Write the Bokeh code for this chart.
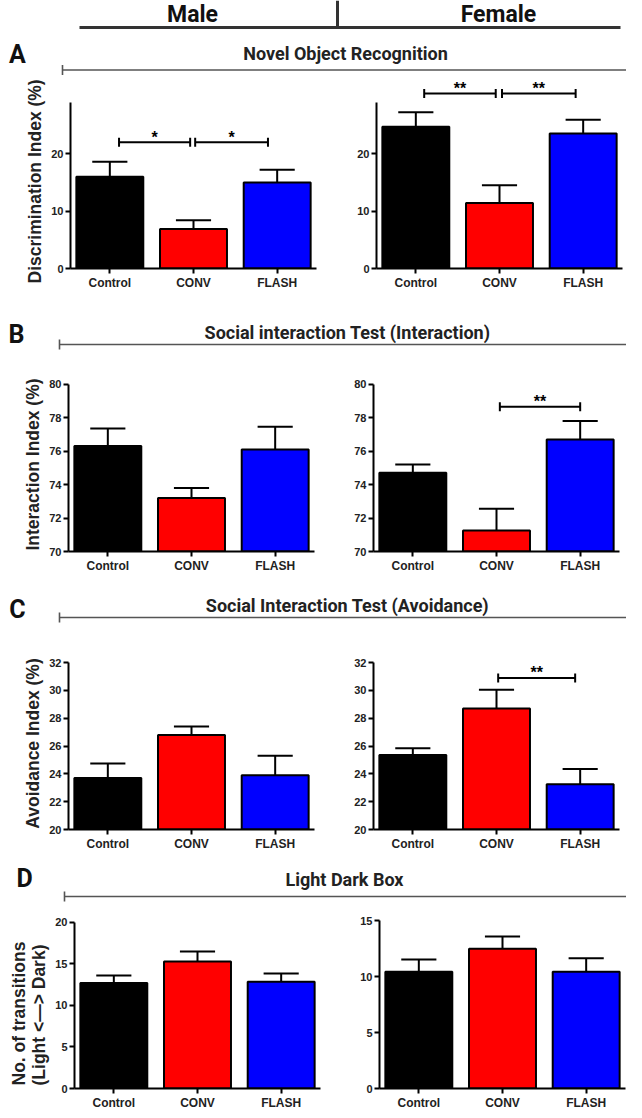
import numpy as np
from bokeh.plotting import figure
from bokeh.layouts import column, row
from bokeh.models import Range1d, FixedTicker, ColumnDataSource, Title
from bokeh.core.properties import value
from bokeh.embed import file_html
from bokeh.resources import INLINE

# ---------------- data ----------------
categories = ["Control", "CONV", "FLASH"]
bar_colors = ["#000000", "#ff0000", "#0000ff"]

# A: Novel Object Recognition, discrimination index (%)
nor_male = [16.0, 6.9, 15.0]
nor_male_sem = [2.6, 1.5, 2.2]
nor_female = [24.7, 11.4, 23.5]
nor_female_sem = [2.5, 3.1, 2.4]

# B: Social interaction test, interaction index (%)
sit_int_male = [76.3, 73.2, 76.1]
sit_int_male_sem = [1.05, 0.6, 1.35]
sit_int_female = [74.7, 71.25, 76.7]
sit_int_female_sem = [0.5, 1.3, 1.1]

# C: Social interaction test, avoidance index (%)
sit_avo_male = [23.7, 26.8, 23.9]
sit_avo_male_sem = [1.05, 0.6, 1.4]
sit_avo_female = [25.35, 28.7, 23.25]
sit_avo_female_sem = [0.5, 1.35, 1.1]

# D: Light dark box, number of transitions
ldb_male = [12.7, 15.3, 12.85]
ldb_male_sem = [0.9, 1.2, 1.0]
ldb_female = [10.45, 12.5, 10.45]
ldb_female_sem = [1.1, 1.1, 1.2]

# significance brackets: (x start, x end, height, label)
nor_male_sig = [(0.11, 0.96, 22.0, "*"), (1.02, 1.89, 22.0, "*")]
nor_female_sig = [(0.10, 0.955, 30.5, "**"), (1.03, 1.91, 30.5, "**")]
sit_int_female_sig = [(1.04, 2.0, 78.65, "**")]
sit_avo_female_sig = [(1.02, 1.94, 30.9, "**")]

CHART_FONT = "Liberation Sans"
HEAD_FONT = "Roboto"
PAGE_W = 626


def header(y0, y1, letter, letter_xy, title, title_xy, line_y, line_x0, top=False):
    p = figure(width=PAGE_W, height=y1 - y0, x_range=Range1d(8, 634),
               y_range=Range1d(y1, y0), output_backend="svg",
               toolbar_location=None, min_border=0, x_axis_type=None,
               y_axis_type=None, outline_line_color=None)
    p.grid.visible = False
    if top:
        p.text(x=[200, 506], y=[22, 22], text=["Male", "Female"],
               text_font=value(HEAD_FONT), text_font_style="bold",
               text_font_size="23px", text_align="center",
               text_baseline="middle", text_color="#111111")
        p.segment(x0=[87, 345], y0=[35, 8], x1=[628, 345], y1=[35, 35],
                  line_color="#333333", line_width=3)
    p.text(x=[letter_xy[0]], y=[letter_xy[1]], text=[letter],
           text_font=value(HEAD_FONT), text_font_style="bold",
           text_font_size="25px", text_align="center",
           text_baseline="middle", text_color="#111111")
    p.text(x=[title_xy[0]], y=[title_xy[1]], text=[title],
           text_font=value(HEAD_FONT), text_font_style="bold",
           text_font_size="18px", text_align="center",
           text_baseline="middle", text_color="#222222")
    p.segment(x0=[line_x0, line_x0], y0=[line_y, line_y - 5],
              x1=[634, line_x0], y1=[line_y, line_y + 5],
              line_color="#555555", line_width=1.6)
    return p


def panel(vals, sems, y_lo, y_hi, y_top, step, frame_h, top, bottom,
          left, right, ylabel=None, sig=(), label_from_bottom=None):
    p = figure(frame_width=246, frame_height=frame_h,
               x_range=Range1d(-0.47, 2.47), y_range=Range1d(y_lo, y_hi),
               min_border_left=left, min_border_right=right,
               min_border_top=top, min_border_bottom=bottom,
               output_backend="svg", toolbar_location=None,
               outline_line_color=None)
    p.grid.visible = False
    xs = list(range(len(categories)))
    err = [v + s for v, s in zip(vals, sems)]
    src = ColumnDataSource(dict(
        x=xs, top=vals, color=bar_colors, err=err,
        cl=[x - 0.21 for x in xs], cr=[x + 0.21 for x in xs]))
    p.vbar(x="x", top="top", bottom=y_lo, width=0.8, fill_color="color",
           line_color="black", line_width=2, source=src)
    p.segment(x0="x", y0="top", x1="x", y1="err", line_color="black",
              line_width=2, source=src)
    p.segment(x0="cl", y0="err", x1="cr", y1="err", line_color="black",
              line_width=2, source=src)
    for (a, b, h, lab) in sig:
        p.segment(x0=[a], y0=[h], x1=[b], y1=[h], line_color="black",
                  line_width=2)
        p.scatter(x=[a, b], y=[h, h], marker="dash", angle=np.pi / 2,
                  size=9, line_color="black", line_width=2)
        p.text(x=[(a + b) / 2], y=[h], text=[lab],
               text_font=value(CHART_FONT), text_font_style="bold",
               text_font_size="16px", text_align="center",
               text_baseline="middle", y_offset=-5, text_color="black")

    p.xaxis.ticker = FixedTicker(ticks=xs)
    p.xaxis.major_label_overrides = {i: c for i, c in enumerate(categories)}
    p.yaxis.ticker = FixedTicker(ticks=list(np.arange(y_lo, y_top + 0.001, step)))
    p.yaxis.bounds = (y_lo, y_top)
    p.axis.axis_line_width = 2
    p.axis.axis_line_color = "black"
    p.axis.major_tick_line_width = 2
    p.axis.major_tick_line_color = "black"
    p.axis.major_tick_out = 5
    p.axis.major_tick_in = 0
    p.axis.minor_tick_line_color = None
    p.axis.major_label_text_font = CHART_FONT
    p.axis.major_label_text_font_style = "bold"
    p.axis.major_label_text_color = "#222222"
    p.axis.major_label_standoff = 2
    p.xaxis.major_label_text_font_size = "12px"
    p.yaxis.major_label_text_font_size = "11px"
    if ylabel:
        if label_from_bottom is None:
            t = Title(text=ylabel, align="center")
        else:
            t = Title(text=ylabel, align="left", offset=label_from_bottom)
        t.text_font = CHART_FONT
        t.text_font_style = "bold"
        t.text_font_size = "17.5px"
        t.text_color = "#222222"
        t.standoff = 8
        p.add_layout(t, "left")
    return p


hA = header(8, 84, "A", (25, 62), "Novel Object Recognition", (353, 61), 77.5, 70, top=True)
rowA = row(
    panel(nor_male, nor_male_sem, 0, 33.1, 29, 10, 190, 2, 30, 70, 6,
          ylabel="Discrimination Index (%)", sig=nor_male_sig, label_from_bottom=-15),
    panel(nor_female, nor_female_sem, 0, 33.1, 29, 10, 190, 2, 30, 54, 4,
          sig=nor_female_sig),
)
hB = header(306, 364, "B", (24, 342), "Social interaction Test (Interaction)", (355, 340), 352, 67)
rowB = row(
    panel(sit_int_male, sit_int_male_sem, 70, 80.4, 80, 2, 174, 21, 21, 68, 8,
          ylabel="Interaction Index (%)"),
    panel(sit_int_female, sit_int_female_sem, 70, 80.4, 80, 2, 174, 21, 21, 51, 7,
          sig=sit_int_female_sig),
)
hC = header(580, 638, "C", (25, 614), "Social Interaction Test (Avoidance)", (355, 610), 622, 67)
rowC = row(
    panel(sit_avo_male, sit_avo_male_sem, 20, 32.37, 32, 2, 172, 24, 21, 68, 8,
          ylabel="Avoidance Index (%)"),
    panel(sit_avo_female, sit_avo_female_sem, 20, 32.37, 32, 2, 172, 24, 21, 51, 7,
          sig=sit_avo_female_sig),
)
hD = header(855, 910, "D", (32, 880), "Light Dark Box", (352, 881), 898, 72)
rowD = row(
    panel(ldb_male, ldb_male_sem, 0, 20.24, 20, 5, 168, 12, 20, 74, 2,
          ylabel="No. of transitions\n(Light <\u2014> Dark)", label_from_bottom=3),
    panel(ldb_female, ldb_female_sem, 0, 15.03, 15, 5, 168, 12, 20, 57, 1),
)

layout = column(hA, rowA, hB, rowB, hC, rowC, hD, rowD)
open("out.html", "w").write(file_html(layout, INLINE))
